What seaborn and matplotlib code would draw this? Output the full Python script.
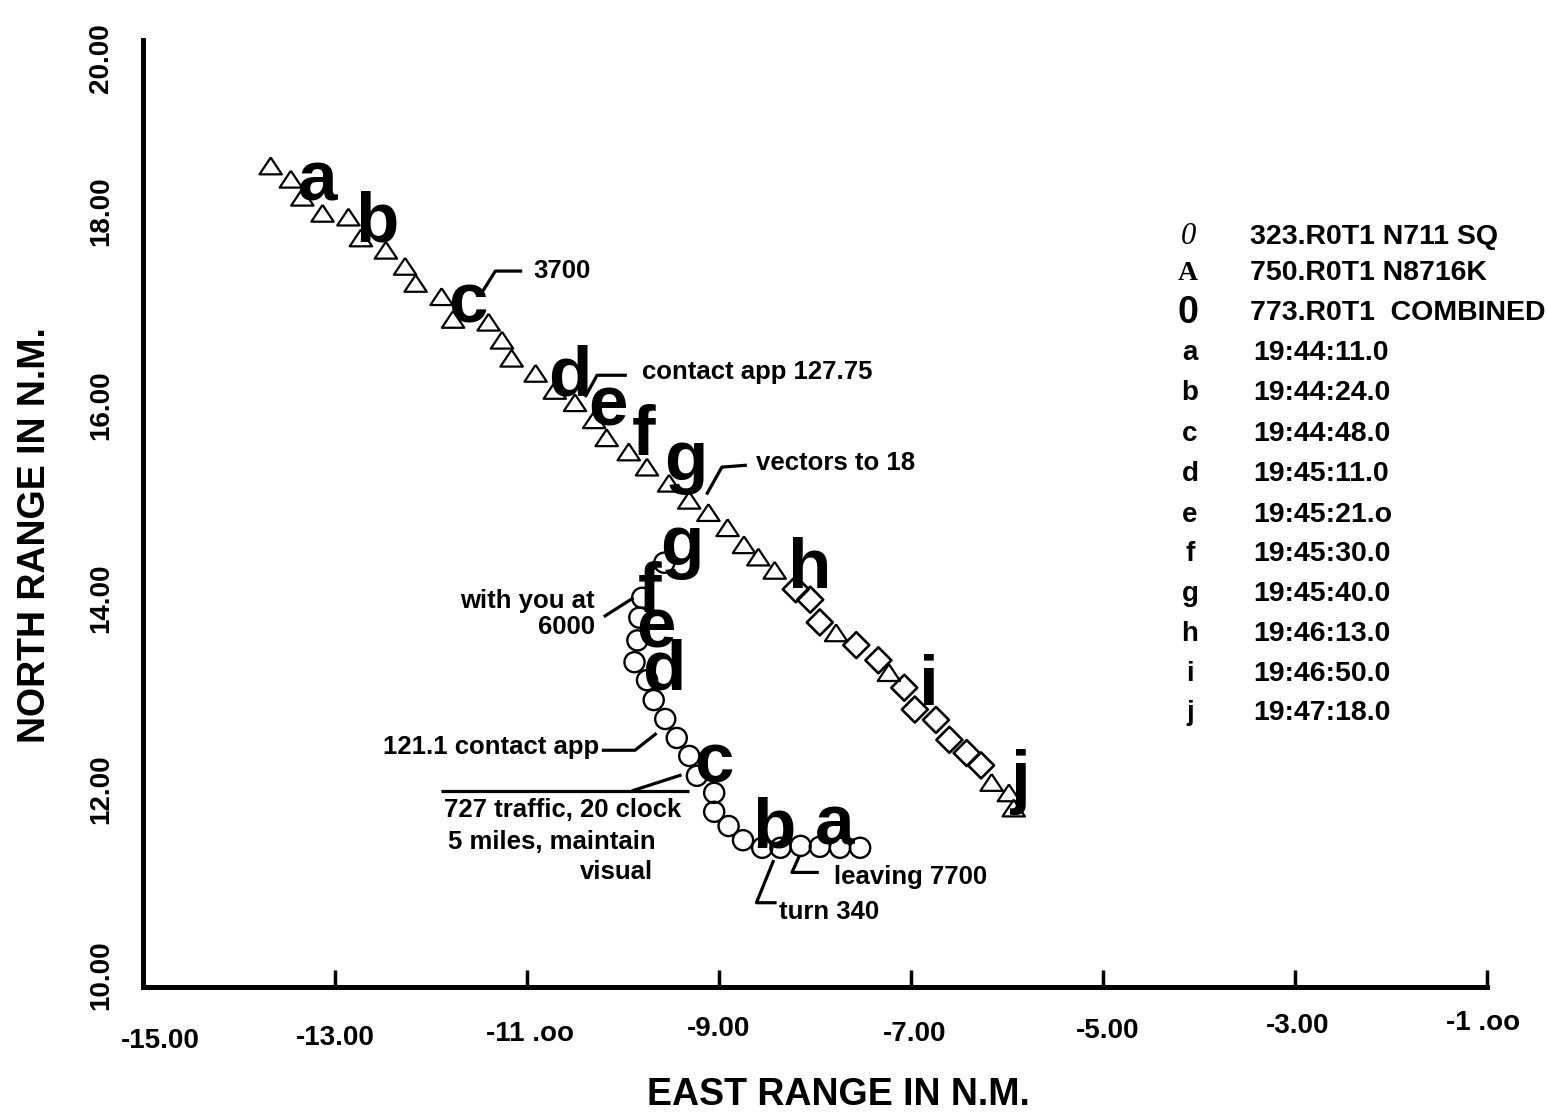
import matplotlib
matplotlib.use("Agg")
import matplotlib.pyplot as plt
import matplotlib.transforms as mtransforms
import seaborn as sns
import pandas as pd
from matplotlib import font_manager

# ---------------- data ----------------
# 750.R0T1 N8716K (triangles)
tri_x = [-13.67, -13.46, -13.34, -13.13, -12.86, -12.73, -12.47, -12.27, -12.16, -11.89,
         -11.77, -11.40, -11.26, -11.16, -10.91, -10.71, -10.50, -10.30, -10.17, -9.94,
         -9.75, -9.52, -9.31, -9.11, -8.91, -8.74, -8.59, -8.42,
         -7.78, -7.23, -6.16, -5.98, -5.93]
tri_y = [18.67, 18.53, 18.34, 18.17, 18.13, 17.91, 17.78, 17.61, 17.43, 17.29,
         17.05, 17.02, 16.83, 16.64, 16.48, 16.30, 16.17, 15.99, 15.80, 15.65,
         15.49, 15.32, 15.14, 15.01, 14.85, 14.67, 14.54, 14.40,
         13.74, 13.32, 12.16, 12.05, 11.89]

# 773.R0T1 COMBINED (diamonds)
dia_x = [-8.20, -8.05, -7.95, -7.57, -7.34, -7.07, -6.96, -6.74, -6.60, -6.42, -6.27]
dia_y = [14.20, 14.09, 13.85, 13.61, 13.45, 13.16, 12.93, 12.82, 12.61, 12.47, 12.34]

# 323.R0T1 N711 SQ (circles)
cir_x = [-9.57, -9.80, -9.83, -9.85, -9.88, -9.75, -9.68, -9.56, -9.44, -9.31, -9.23,
         -9.05, -9.05, -8.90, -8.75, -8.55, -8.36, -8.15, -7.95, -7.74, -7.53]
cir_y = [14.48, 14.11, 13.90, 13.66, 13.43, 13.24, 13.03, 12.83, 12.63, 12.44, 12.23,
         12.05, 11.85, 11.70, 11.55, 11.47, 11.47, 11.49, 11.48, 11.47, 11.47]

# time-mark letters along each track
tri_letters = ["a", "b", "c", "d", "e", "f", "g", "h", "i", "j"]
tri_lx = [-13.18, -12.56, -11.62, -10.55, -10.16, -9.79, -9.35, -8.06, -6.81, -5.87]
tri_ly = [18.31, 17.87, 17.02, 16.25, 15.93, 15.62, 15.35, 14.21, 12.98, 11.97]
cir_letters = ["g", "f", "e", "d", "c", "b", "a"]
cir_lx = [-9.39, -9.72, -9.66, -9.58, -9.05, -8.43, -7.80]
cir_ly = [14.46, 13.96, 13.58, 13.14, 12.16, 11.47, 11.50]

# legend / key
key_symbols = ["0", "A", "0"]
key_names = ["323.R0T1 N711 SQ", "750.R0T1 N8716K", "773.R0T1  COMBINED"]
time_letters = ["a", "b", "c", "d", "e", "f", "g", "h", "i", "j"]
time_labels = ["19:44:11.0", "19:44:24.0", "19:44:48.0", "19:45:11.0", "19:45:21.o",
               "19:45:30.0", "19:45:40.0", "19:46:13.0", "19:46:50.0", "19:47:18.0"]

x_ticks = [-15, -13, -11, -9, -7, -5, -3, -1]
x_ticklabels = ["-15.00", "-13.00", "-11 .oo", "-9.00", "-7.00", "-5.00", "-3.00", "-1 .oo"]
y_ticks = [10, 12, 14, 16, 18, 20]
y_ticklabels = ["10.00", "12.00", "14.00", "16.00", "18.00", "20.00"]

# annotations: text, anchor x, anchor y, ha, leader line xs, leader line ys
notes = [
    ("3700", -10.93, 17.56, "left", [-11.49, -11.33, -11.05], [17.30, 17.56, 17.56]),
    ("contact app 127.75", -9.80, 16.49, "left", [-10.395, -10.27, -9.96], [16.23, 16.46, 16.46]),
    ("vectors to 18", -8.61, 15.53, "left", [-9.13, -8.97, -8.71], [15.20, 15.49, 15.51]),
    ("with you at\n6000", -10.29, 13.94, "right", [-10.20, -9.89], [13.91, 14.11]),
    ("121.1 contact app", -10.25, 12.53, "right", [-10.22, -9.875, -9.65], [12.50, 12.50, 12.68]),
    ("727 traffic, 20 clock", -11.86, 11.87, "left", [-11.90, -9.31], [12.07, 12.07]),
    ("5 miles, maintain", -11.82, 11.53, "left", [-9.91, -9.39], [12.07, 12.24]),
    ("visual", -10.45, 11.21, "left", [], []),
    ("leaving 7700", -7.80, 11.16, "left", [-8.16, -8.24, -7.96], [11.39, 11.21, 11.21]),
    ("turn 340", -8.37, 10.79, "left", [-8.43, -8.61, -8.40], [11.34, 10.89, 10.89]),
]

# ---------------- style ----------------
sns.set_style("white")
names = {f.name for f in font_manager.fontManager.ttflist}
main_font = "Liberation Sans Narrow" if "Liberation Sans Narrow" in names else "Liberation Sans"
plt.rcParams["font.family"] = ["Liberation Sans", "DejaVu Sans"]
plt.rcParams["text.color"] = "black"
plt.rcParams["axes.labelcolor"] = "black"
plt.rcParams["xtick.color"] = "black"
plt.rcParams["ytick.color"] = "black"

W, H = 1546, 1117
fig = plt.figure(figsize=(W / 100, H / 100), dpi=100)
fig.patch.set_facecolor("white")
ax = fig.add_axes([143 / W, 1 - 987 / H, (1487 - 143) / W, (987 - 40) / H])
ax.set_facecolor("white")

tri_marker = [(0, 0.75), (-1, -0.75), (1, -0.75), (0, 0.75)]

sns.scatterplot(x=tri_x, y=tri_y, marker=tri_marker, s=260, facecolor="none",
                edgecolor="black", linewidth=1.6, ax=ax, zorder=3)
sns.scatterplot(x=dia_x, y=dia_y, marker="D", s=175, facecolor="none",
                edgecolor="black", linewidth=1.9, ax=ax, zorder=3)
sns.scatterplot(x=cir_x, y=cir_y, marker="o", s=210, facecolor="none",
                edgecolor="black", linewidth=1.7, ax=ax, zorder=3)

for lt, lx, ly in zip(tri_letters, tri_lx, tri_ly):
    ax.text(lx, ly, lt, ha="center", va="baseline", fontsize=51, fontweight="bold",
            color="black", family=[main_font, "DejaVu Sans"], zorder=4)
for lt, lx, ly in zip(cir_letters, cir_lx, cir_ly):
    ax.text(lx, ly, lt, ha="center", va="baseline", fontsize=51, fontweight="bold",
            color="black", family=[main_font, "DejaVu Sans"], zorder=4)

for txt, tx, ty, ha, lxs, lys in notes:
    ax.text(tx, ty, txt, ha=ha, va="center", fontsize=18.5, fontweight="bold",
            color="black", linespacing=1.1, zorder=5)
    if lxs:
        ax.plot(lxs, lys, color="black", lw=2.3, solid_capstyle="butt", zorder=5)

ax.set_xlim(-15, -1)
ax.set_ylim(10, 20)

ax.set_xticks(x_ticks)
ax.set_xticklabels(x_ticklabels, fontsize=20, fontweight="bold", family=[main_font, "DejaVu Sans"])
ax.set_yticks(y_ticks)
ax.set_yticklabels(y_ticklabels, fontsize=20, fontweight="bold", rotation=90, va="center",
                   family=[main_font, "DejaVu Sans"])
ax.tick_params(axis="x", direction="in", length=12, width=2.5, pad=22, colors="black",
               bottom=True)
ax.tick_params(axis="y", length=0, pad=21, colors="black")

# the scanned original has slightly staggered tick labels
x_offsets = [(17, -10), (0, -7), (3, -3), (0, 2), (4, -3), (5, 0), (3, 5), (-4, 8)]
for lab, (dx, dy) in zip(ax.get_xticklabels(), x_offsets):
    lab.set_transform(lab.get_transform() +
                      mtransforms.ScaledTranslation(dx / 100, dy / 100, fig.dpi_scale_trans))
y_offsets = [(0, 12), (0, 8), (0, 10), (0, 14), (0, 18), (0, -18)]
for lab, (dx, dy) in zip(ax.get_yticklabels(), y_offsets):
    lab.set_transform(lab.get_transform() +
                      mtransforms.ScaledTranslation(dx / 100, dy / 100, fig.dpi_scale_trans))

for side in ["top", "right"]:
    ax.spines[side].set_visible(False)
for side in ["left", "bottom"]:
    ax.spines[side].set_visible(True)
    ax.spines[side].set_color("black")
    ax.spines[side].set_linewidth(3.6)

ax.set_xlabel("EAST RANGE IN N.M.", fontsize=27, fontweight="bold",
              family=[main_font, "DejaVu Sans"])
ax.xaxis.set_label_coords((838 - 143) / (1487 - 143), -(1095 - 987) / (987 - 40))
ax.xaxis.label.set_va("center")
ax.set_ylabel("NORTH RANGE IN N.M.", fontsize=27, fontweight="bold",
              family=[main_font, "DejaVu Sans"])
ax.yaxis.set_label_coords(-(143 - 35) / (1487 - 143), (987 - 535) / (987 - 40))
ax.yaxis.label.set_va("center")

# key at the right
sym_styles = [dict(family=["Liberation Serif", "DejaVu Serif"], style="italic", fontsize=22),
              dict(family=["Liberation Serif", "DejaVu Serif"], fontweight="bold", fontsize=20),
              dict(family=["Liberation Sans", "DejaVu Sans"], fontweight="bold", fontsize=27)]
key_rows = [237, 273, 313]
for sym, name, py, st in zip(key_symbols, key_names, key_rows, sym_styles):
    fig.text(1188 / W, 1 - py / H, sym, ha="center", va="center", color="black", **st)
    fig.text(1250 / W, 1 - py / H, name, ha="left", va="center", fontsize=20.5,
             fontweight="bold", color="black")
time_rows = [353, 393, 434, 474, 515, 554, 594, 634, 674, 713]
for lt, lab, py in zip(time_letters, time_labels, time_rows):
    fig.text(1190 / W, 1 - py / H, lt, ha="center", va="center", fontsize=20,
             fontweight="bold", color="black")
    fig.text(1253 / W, 1 - py / H, lab, ha="left", va="center", fontsize=20.5,
             fontweight="bold", color="black")

fig.savefig("out.png", dpi=100, facecolor="white")
